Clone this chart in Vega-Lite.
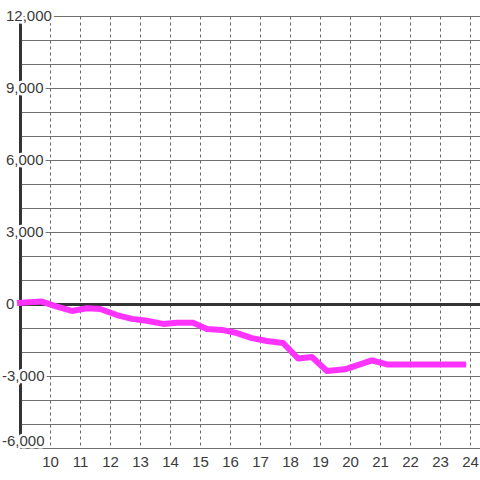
{
  "$schema": "https://vega.github.io/schema/vega-lite/v6.json",
  "width": 460,
  "height": 432,
  "autosize": {"type": "none"},
  "padding": {"left": 20, "top": 16, "right": 0, "bottom": 32},
  "background": "white",
  "config": {
    "view": {"stroke": null},
    "font": "Liberation Sans",
    "axisX": {
      "grid": true, "gridColor": "#666666", "gridDash": [3, 3], "gridWidth": 1,
      "domain": false, "ticks": false, "tickSize": 0,
      "labelOverlap": false, "labelFlush": false, "labelBound": false,
      "labelFontSize": 15, "labelColor": "#3a3a3a", "labelPadding": 6, "labelFont": "Liberation Sans"
    }
  },
  "datasets": {
    "series": [
      {"h": 8.9, "v": 40},
      {"h": 9.73, "v": 100},
      {"h": 10.23, "v": -110},
      {"h": 10.73, "v": -290},
      {"h": 11.23, "v": -180},
      {"h": 11.67, "v": -210},
      {"h": 12.23, "v": -460},
      {"h": 12.73, "v": -620},
      {"h": 13.23, "v": -700},
      {"h": 13.77, "v": -830},
      {"h": 14.23, "v": -780},
      {"h": 14.77, "v": -780},
      {"h": 15.23, "v": -1040},
      {"h": 15.73, "v": -1080},
      {"h": 16.23, "v": -1210},
      {"h": 16.73, "v": -1420},
      {"h": 17.23, "v": -1540},
      {"h": 17.77, "v": -1625},
      {"h": 18.27, "v": -2270},
      {"h": 18.73, "v": -2210},
      {"h": 19.23, "v": -2790},
      {"h": 19.83, "v": -2720},
      {"h": 20.73, "v": -2350},
      {"h": 21.23, "v": -2520},
      {"h": 23.87, "v": -2520}
    ],
    "ylabels": [
      {"v": -6000, "t": "-6,000"},
      {"v": -3000, "t": "-3,000"},
      {"v": 0, "t": "0"},
      {"v": 3000, "t": "3,000"},
      {"v": 6000, "t": "6,000"},
      {"v": 9000, "t": "9,000"},
      {"v": 12000, "t": "12,000"}
    ]
  },
  "encoding": {
    "y": {
      "field": "v", "type": "quantitative",
      "scale": {"domain": [-6000, 12000], "nice": false, "zero": false},
      "axis": {
        "title": null,
        "values": [-6000, -5000, -4000, -3000, -2000, -1000, 0, 1000, 2000, 3000, 4000, 5000, 6000, 7000, 8000, 9000, 10000, 11000, 12000],
        "grid": true,
        "gridColor": {"condition": {"test": "datum.value === 0", "value": "#333333"}, "value": "#707070"},
        "gridWidth": {"condition": {"test": "datum.value === 0", "value": 3}, "value": 1},
        "domain": true, "domainColor": "#333333", "domainWidth": 3,
        "ticks": false, "tickSize": 0, "labels": false
      }
    }
  },
  "layer": [
    {
      "data": {"name": "ylabels"},
      "transform": [{"filter": "datum.v >= 0"}],
      "mark": {"type": "text", "align": "left", "baseline": "middle", "dx": -14, "fontSize": 15, "fill": "white", "stroke": "white", "strokeWidth": 5, "strokeJoin": "round"},
      "encoding": {
        "x": {"datum": 9, "type": "quantitative", "scale": {"domain": [9, 24.333], "nice": false, "zero": false}, "axis": {"title": null, "values": [10, 11, 12, 13, 14, 15, 16, 17, 18, 19, 20, 21, 22, 23, 24]}},
        "text": {"field": "t"}
      }
    },
    {
      "data": {"name": "ylabels"},
      "transform": [{"filter": "datum.v < 0 && datum.v > -6000"}],
      "mark": {"type": "text", "align": "left", "baseline": "middle", "dx": -18, "fontSize": 15, "fill": "white", "stroke": "white", "strokeWidth": 5, "strokeJoin": "round"},
      "encoding": {
        "x": {"datum": 9, "type": "quantitative", "scale": {"domain": [9, 24.333], "nice": false, "zero": false}, "axis": {"title": null, "values": [10, 11, 12, 13, 14, 15, 16, 17, 18, 19, 20, 21, 22, 23, 24]}},
        "text": {"field": "t"}
      }
    },
    {
      "data": {"name": "ylabels"},
      "transform": [{"filter": "datum.v <= -6000"}],
      "mark": {"type": "text", "align": "left", "baseline": "middle", "dx": -18, "dy": -7, "fontSize": 15, "fill": "white", "stroke": "white", "strokeWidth": 5, "strokeJoin": "round"},
      "encoding": {
        "x": {"datum": 9, "type": "quantitative", "scale": {"domain": [9, 24.333], "nice": false, "zero": false}, "axis": {"title": null, "values": [10, 11, 12, 13, 14, 15, 16, 17, 18, 19, 20, 21, 22, 23, 24]}},
        "text": {"field": "t"}
      }
    },
    {
      "data": {"name": "ylabels"},
      "transform": [{"filter": "datum.v >= 0"}],
      "mark": {"type": "text", "align": "left", "baseline": "middle", "dx": -14, "fontSize": 15, "fill": "#3a3a3a"},
      "encoding": {
        "x": {"datum": 9, "type": "quantitative", "scale": {"domain": [9, 24.333], "nice": false, "zero": false}, "axis": {"title": null, "values": [10, 11, 12, 13, 14, 15, 16, 17, 18, 19, 20, 21, 22, 23, 24]}},
        "text": {"field": "t"}
      }
    },
    {
      "data": {"name": "ylabels"},
      "transform": [{"filter": "datum.v < 0 && datum.v > -6000"}],
      "mark": {"type": "text", "align": "left", "baseline": "middle", "dx": -18, "fontSize": 15, "fill": "#3a3a3a"},
      "encoding": {
        "x": {"datum": 9, "type": "quantitative", "scale": {"domain": [9, 24.333], "nice": false, "zero": false}, "axis": {"title": null, "values": [10, 11, 12, 13, 14, 15, 16, 17, 18, 19, 20, 21, 22, 23, 24]}},
        "text": {"field": "t"}
      }
    },
    {
      "data": {"name": "ylabels"},
      "transform": [{"filter": "datum.v <= -6000"}],
      "mark": {"type": "text", "align": "left", "baseline": "middle", "dx": -18, "dy": -7, "fontSize": 15, "fill": "#3a3a3a"},
      "encoding": {
        "x": {"datum": 9, "type": "quantitative", "scale": {"domain": [9, 24.333], "nice": false, "zero": false}, "axis": {"title": null, "values": [10, 11, 12, 13, 14, 15, 16, 17, 18, 19, 20, 21, 22, 23, 24]}},
        "text": {"field": "t"}
      }
    },
    {
      "data": {"name": "series"},
      "mark": {"type": "line", "color": "#ff33ff", "strokeWidth": 6, "strokeJoin": "round", "strokeCap": "butt"},
      "encoding": {
        "x": {
          "field": "h", "type": "quantitative",
          "scale": {"domain": [9, 24.333], "nice": false, "zero": false},
          "axis": {"title": null, "values": [10, 11, 12, 13, 14, 15, 16, 17, 18, 19, 20, 21, 22, 23, 24]}
        }
      }
    }
  ]
}
